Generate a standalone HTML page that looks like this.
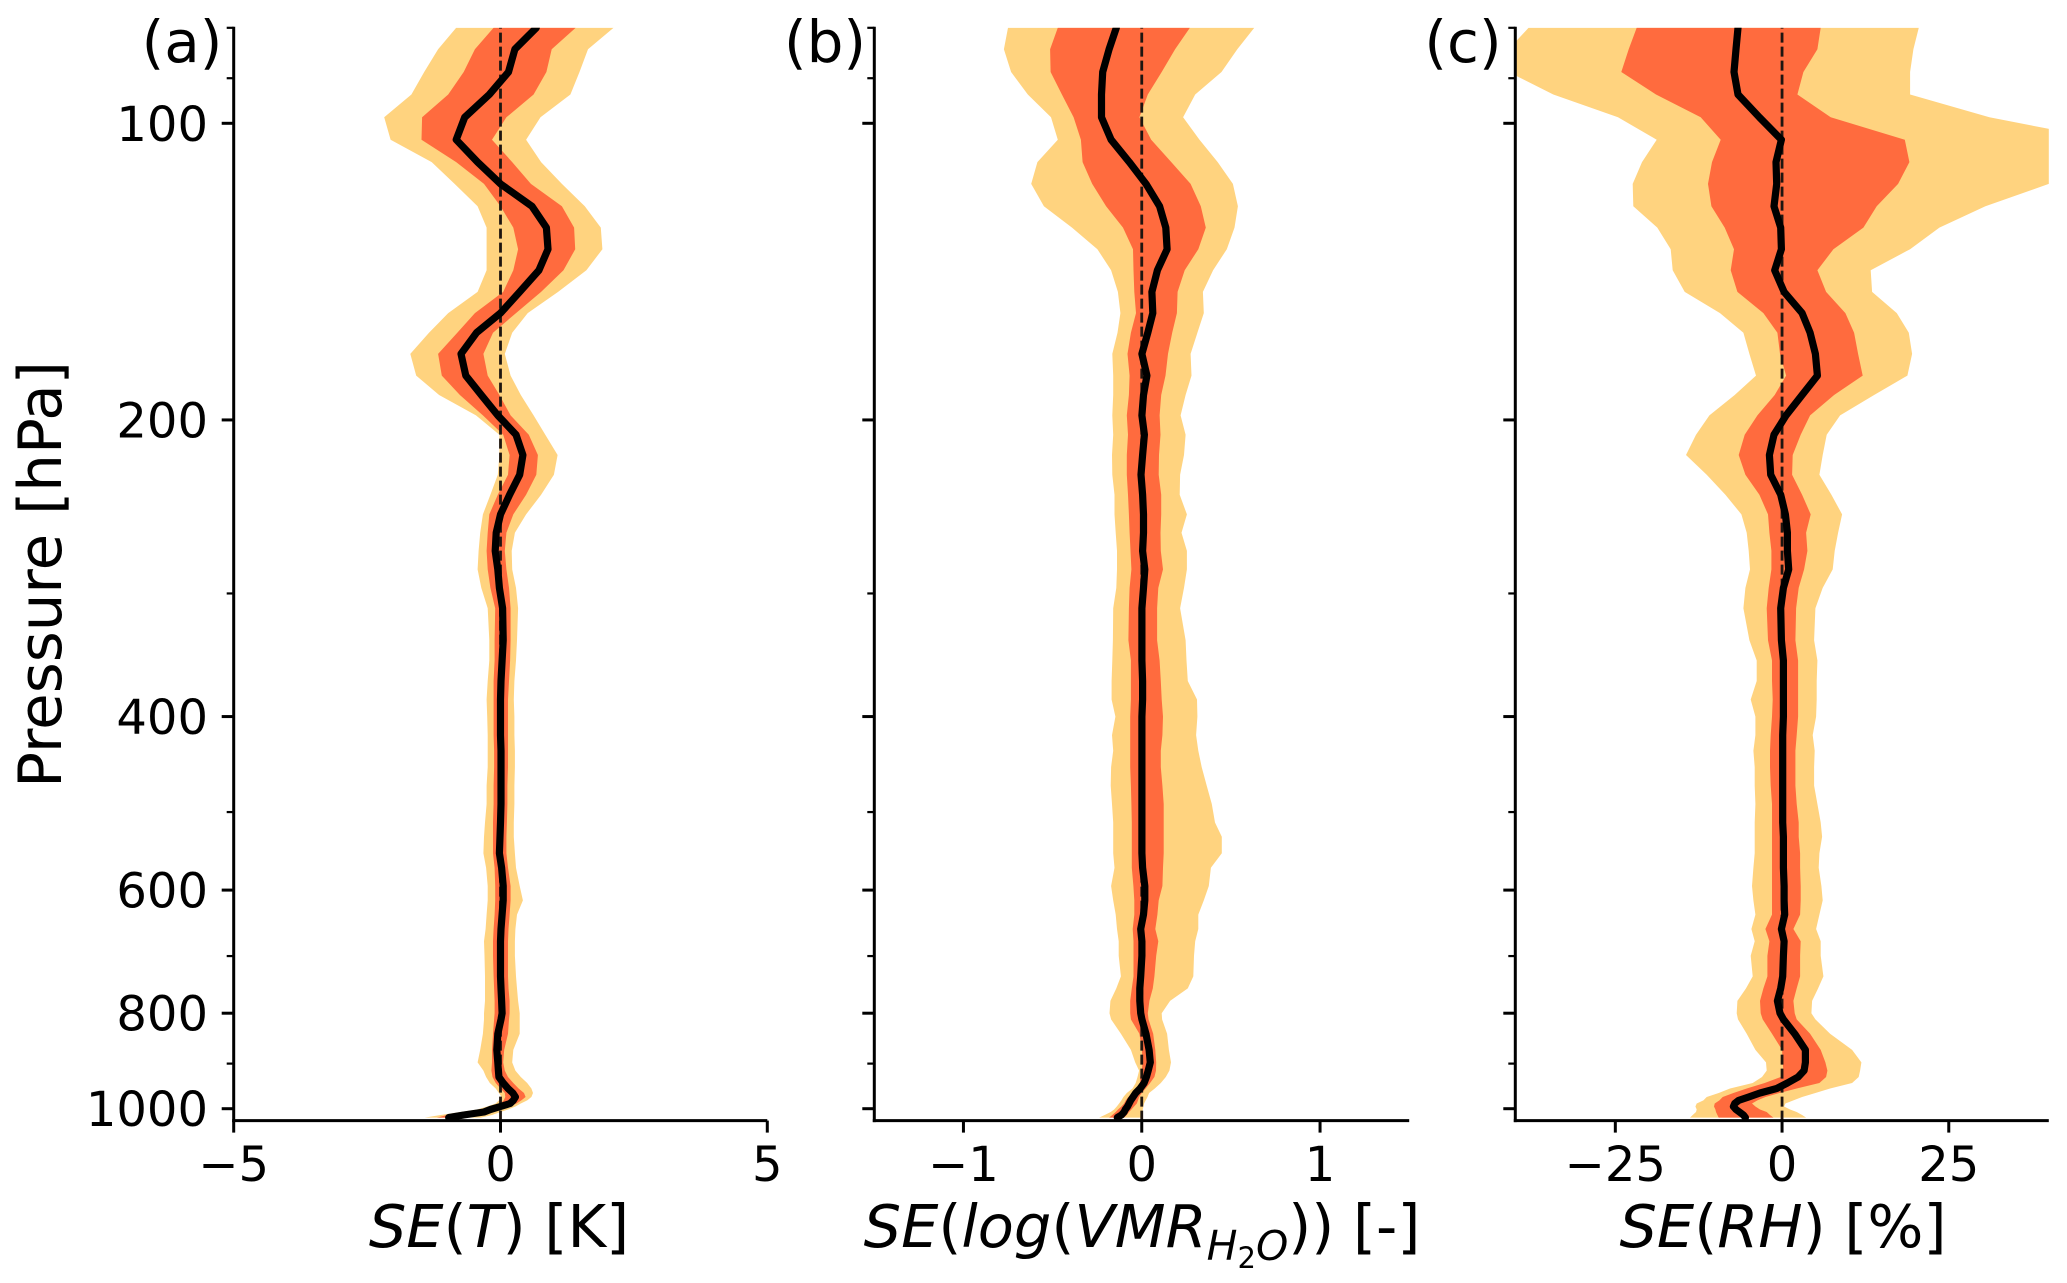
<!DOCTYPE html>
<html lang="en">
<head>
<meta charset="utf-8">
<title>Standard error profiles</title>
<style>
html,body{margin:0;padding:0;background:#fff;}
svg{display:block;font-family:"DejaVu Sans",sans-serif;}
</style>
</head>
<body>
<svg id="chart" xmlns="http://www.w3.org/2000/svg" width="2067" height="1283" viewBox="0 0 2067 1283">
<rect x="0" y="0" width="2067" height="1283" fill="#ffffff"/>
<text transform="translate(61,574.5) rotate(-90)" text-anchor="middle" font-size="59.5" fill="#000">Pressure [hPa]</text>
<text x="499" y="1247" text-anchor="middle" font-size="59" fill="#000"><tspan font-style="italic">SE</tspan>(<tspan font-style="italic">T</tspan>) [K]</text>
<text x="1142" y="1247" text-anchor="middle" font-size="59" fill="#000"><tspan font-style="italic">SE</tspan>(<tspan font-style="italic">log</tspan>(<tspan font-style="italic">VMR</tspan><tspan font-style="italic" font-size="41" dy="13">H</tspan><tspan font-size="29" dy="8">2</tspan><tspan font-style="italic" font-size="41" dy="-8">O</tspan><tspan dy="-13">)) [-]</tspan></text>
<text x="1783" y="1247" text-anchor="middle" font-size="59" fill="#000"><tspan font-style="italic">SE</tspan>(<tspan font-style="italic">RH</tspan>) [%]</text>
<text x="182" y="62" text-anchor="middle" font-size="58" fill="#000">(a)</text>
<text x="825" y="62" text-anchor="middle" font-size="58" fill="#000">(b)</text>
<text x="1463" y="62" text-anchor="middle" font-size="58" fill="#000">(c)</text>
</svg>
<script>
// Pressure levels (hPa)
const levels = [80,84.1,88.7,93.5,98.6,103.9,109.5,115.2,121.4,127.6,134.2,141,148.3,155.8,163.1,171.4,180.3,188.7,197.9,207,217.1,227.3,238.2,249.4,260.3,271.6,283.6,296.1,310.5,334.6,350.9,368.1,384.4,400,417.7,433.2,450.1,470,490.7,512.4,529.8,550.5,569.4,594.3,614.6,635.4,657.1,676.3,699.4,734,755,777.4,800,811.6,839.4,871.7,897.4,914.9,928.6,941.7,954,964,973,980.9,987.9,994.9,1001.8,1007.8,1014.8,1021];
const majorPressureTicks = [100,200,400,600,800,1000];
const minorPressureTicks = [80,90,300,500,700,900];

// Panel (a) SE(T) [K]
const tempOuterLow = [-.83,-1.17,-1.43,-1.67,-2.18,-2.06,-1.29,-.86,-.43,-.26,-.26,-.26,-.43,-.98,-1.34,-1.69,-1.58,-1.15,-.46,-.02,-.02,-.05,-.19,-.33,-.38,-.41,-.43,-.36,-.24,-.21,-.21,-.24,-.26,-.25,-.24,-.24,-.24,-.26,-.26,-.29,-.31,-.32,-.27,-.24,-.24,-.26,-.28,-.31,-.30,-.29,-.29,-.29,-.31,-.31,-.33,-.38,-.43,-.32,-.27,-.20,-.09,-.03,.02,-.03,-.09,-.25,-.44,-.75,-1.12,-1.42];
const tempInnerLow = [-.13,-.48,-.69,-.98,-1.47,-1.48,-.83,-.31,0,.24,.33,.24,.05,-.48,-.81,-1.17,-1.10,-.76,-.33,.05,.17,.14,-.05,-.21,-.24,-.26,-.24,-.19,-.10,-.11,-.11,-.13,-.13,-.13,-.13,-.12,-.12,-.13,-.13,-.14,-.14,-.14,-.11,-.10,-.10,-.11,-.13,-.14,-.14,-.13,-.12,-.11,-.11,-.12,-.14,-.16,-.16,-.17,-.15,-.09,0,.08,.09,.06,0,-.16,-.34,-.62,-1.0,-1.19];
const tempMean = [.67,.27,.15,-.21,-.67,-.83,-.43,0,.59,.86,.89,.72,.36,0,-.45,-.74,-.65,-.36,-.05,.29,.42,.36,.17,0,-.08,-.10,-.05,-.02,.04,.05,.03,.01,0,0,0,.01,.01,.01,.01,0,-.01,-.02,.02,.05,.05,.03,.01,0,0,0,.01,.02,.03,.01,-.05,-.07,-.05,-.04,-.03,.05,.14,.23,.28,.24,.18,0,-.19,-.31,-.69,-.97];
const tempInnerHigh = [1.41,.96,.86,.62,.11,-.16,.22,.57,1.15,1.38,1.40,1.18,.76,.29,-.14,-.32,-.24,-.02,.19,.53,.70,.67,.48,.24,.11,.08,.11,.16,.19,.19,.18,.16,.14,.14,.14,.14,.14,.13,.13,.12,.11,.11,.14,.19,.19,.17,.15,.14,.14,.14,.15,.17,.17,.16,.14,.07,.05,.08,.14,.24,.34,.44,.47,.39,.30,.16,-.03,-.16,-.44,-.62];
const tempOuterHigh = [2.12,1.64,1.48,1.31,.75,.48,.76,1.15,1.58,1.88,1.91,1.61,1.08,.51,.22,.08,.19,.38,.62,.84,1.07,1.00,.76,.48,.27,.21,.22,.29,.33,.31,.29,.26,.25,.26,.26,.27,.27,.26,.26,.25,.25,.27,.29,.36,.42,.31,.28,.27,.27,.29,.31,.33,.36,.36,.36,.24,.22,.28,.38,.50,.58,.61,.58,.50,.38,.28,.14,0,-.16,-.37];
const tempTicks = [-5,0,5];

// Panel (b) SE(log(VMR_H2O)) [-]
const vmrOuterLow = [-.750,-.773,-.733,-.639,-.509,-.471,-.585,-.620,-.549,-.391,-.249,-.172,-.134,-.120,-.136,-.165,-.160,-.160,-.165,-.160,-.167,-.165,-.153,-.153,-.146,-.139,-.139,-.143,-.160,-.162,-.165,-.169,-.169,-.148,-.167,-.160,-.172,-.174,-.167,-.160,-.160,-.160,-.153,-.172,-.160,-.146,-.139,-.129,-.129,-.117,-.143,-.176,-.181,-.172,-.117,-.061,-.037,-.015,-.024,-.034,-.052,-.084,-.103,-.114,-.127,-.140,-.155,-.174,-.208,-.239];
const vmrInnerLow = [-.471,-.514,-.511,-.448,-.382,-.341,-.332,-.278,-.200,-.105,-.049,-.046,-.042,-.032,-.061,-.080,-.068,-.072,-.084,-.077,-.084,-.084,-.077,-.072,-.068,-.063,-.058,-.068,-.072,-.075,-.061,-.061,-.061,-.065,-.065,-.065,-.065,-.061,-.058,-.056,-.056,-.056,-.056,-.047,-.042,-.042,-.051,-.046,-.046,-.046,-.056,-.065,-.065,-.061,-.013,.001,.005,0,-.009,-.009,-.024,-.052,-.075,-.090,-.099,-.114,-.133,-.146,-.165,-.183];
const vmrMean = [-.143,-.183,-.219,-.226,-.226,-.172,-.070,.024,.100,.135,.142,.088,.057,.062,.034,.001,.029,.010,.001,.015,.005,-.004,.005,.010,.010,.005,.017,.010,.001,.001,.001,.005,.005,.001,.001,.001,.001,.001,.001,.001,.001,.001,.005,.017,.017,.010,-.006,.001,.001,-.006,-.011,-.011,-.006,.001,.024,.041,.048,.036,.026,.013,-.009,-.034,-.049,-.062,-.071,-.080,-.092,-.099,-.114,-.137];
const vmrInnerHigh = [.270,.187,.112,.034,-.013,.053,.166,.274,.331,.359,.317,.241,.201,.197,.171,.147,.133,.109,.100,.105,.097,.095,.109,.109,.105,.107,.119,.093,.086,.086,.100,.107,.112,.119,.116,.107,.107,.116,.123,.123,.123,.123,.119,.116,.095,.088,.076,.093,.081,.071,.062,.043,.034,.038,.064,.076,.081,.080,.071,.047,.022,0,-.015,-.021,-.028,-.043,-.058,-.071,-.084,-.099];
const vmrOuterHigh = [.631,.536,.447,.300,.232,.324,.426,.511,.539,.520,.477,.400,.343,.348,.312,.274,.279,.246,.218,.246,.237,.215,.213,.253,.223,.253,.253,.237,.215,.246,.251,.258,.310,.312,.305,.317,.336,.364,.393,.411,.449,.449,.388,.376,.348,.317,.317,.300,.293,.289,.258,.159,.112,.114,.142,.152,.164,.155,.135,.107,.073,.041,.032,.022,.013,.009,.006,.004,.004,0];
const vmrTicks = [-1,0,1];

// Panel (c) SE(RH) [%]
const rhOuterLow = [-38,-41,-41,-34.3,-24.6,-18.8,-21,-22.4,-22.3,-18.7,-16.7,-16.4,-14.6,-9.3,-5.8,-4.9,-3.9,-7.1,-10.9,-12.9,-14.4,-11.3,-8.5,-6.1,-5.3,-5,-4.8,-5.5,-5.8,-4.9,-3.8,-3.8,-4.7,-4,-4,-4.3,-4.1,-4.1,-4,-4.1,-4.1,-4.1,-4.3,-4.5,-4.3,-4,-4.6,-4.1,-4.7,-4.4,-5.4,-6.7,-6.8,-6.6,-5.3,-4,-2.4,-2.3,-3,-4.4,-7.8,-9.5,-11.3,-11.8,-12.8,-13,-12.8,-12.9,-13.4,-13.8];
const rhInnerLow = [-21.8,-23,-24.1,-18.9,-12.2,-9.2,-10.5,-11.1,-10.6,-8.6,-7.2,-7.7,-6.7,-2.8,-.7,-.3,.6,-1.1,-3.7,-5.6,-6.5,-5.5,-3.4,-2.1,-1.9,-1.6,-1.6,-2,-2.3,-2.1,-1.5,-1.5,-1.4,-1.5,-1.7,-1.8,-1.8,-1.7,-1.5,-1.5,-1.5,-1.5,-1.5,-1.5,-1.5,-1.5,-2.5,-1.9,-2.2,-2.2,-2.8,-3.3,-3.2,-2.9,-1.5,0,.1,.2,-.2,-2.6,-5.3,-7.3,-8.9,-9.4,-10.1,-10.2,-10,-9.9,-9.7,-9.5];
const rhMean = [-6.6,-6.9,-7.2,-6.6,-3.4,-.1,-.9,-.8,-1.2,-.2,-.1,-1.1,.3,3,4.2,5,5.3,3,.6,-1.2,-1.9,-1.7,-.2,.5,.8,.8,1,.2,-.2,-.1,.2,.2,.2,.2,.1,.1,.1,.1,.1,.1,.2,.2,.2,.3,.3,.4,-.1,.3,.2,.1,-.2,-.7,-.3,.2,1.9,3.5,3.5,3.3,2.4,.8,-.8,-3.3,-5,-6.5,-7.1,-7.3,-6.9,-6.4,-5.8,-5.5];
const rhInnerHigh = [5.8,5.3,3.2,2.3,7.3,18.4,19.1,17.4,14.2,12.2,7.7,5.3,6.6,9.5,10.8,11.4,12.1,7.8,4.2,2.8,1.6,1.5,3,4.3,3.6,3.8,3.3,2.5,2.1,2,2.4,2.4,2.4,2.4,2.2,2,2,2,2.2,2.5,2.5,2.7,2.7,2.8,2.8,2.7,1.7,2.8,2.7,2.7,2.2,1.7,1.9,2.2,4.2,5.8,6.5,6.8,6.6,5.6,2.2,-.4,-2.5,-3.7,-4.5,-4,-3.3,-2.3,-1.8,-1.3];
const rhOuterHigh = [20.5,19.7,19.2,19.2,31.1,48.4,50.9,40,30.5,23.6,19.2,13.3,13.5,17.2,19,19.5,18.8,13.8,8.7,6.7,6.1,5.6,7.4,9,8.4,7.9,7.6,6.1,5,4.8,5.3,5.2,5.2,5.1,4.6,4.9,4.8,4.8,5.3,5.8,6,5.6,5.5,5.9,6.1,5.6,5.1,5.8,5.8,6.2,5.4,4.5,4.4,5,7.2,10.5,11.9,11.7,11.5,10.5,7.2,5,3,1.7,.5,.3,1.2,2.2,3,3.6];
const rhTicks = [-25,0,25];

const SVGNS = "http://www.w3.org/2000/svg";
const svg = document.getElementById("chart");
const plotTop = 27.8, plotBottom = 1120.6, decadePx = 985.4, refY = 123.3;
const COLOR_OUTER = "#ffd37f", COLOR_INNER = "#ff6b3e";

function yScale(p){ return refY + decadePx * Math.log10(p / 100); }

function make(tag, attrs, parent){
  const el = document.createElementNS(SVGNS, tag);
  for (const k in attrs) el.setAttribute(k, attrs[k]);
  parent.appendChild(el);
  return el;
}

function drawPanel(id, left, right, xMax, tickVals, outerLow, innerLow, mean, innerHigh, outerHigh, showYLabels){
  const xScale = v => left + (v + xMax) / (2 * xMax) * (right - left);

  const group = make("g", {}, svg);
  
  

  const clip = make("clipPath", {id: "clip-" + id}, group);
  make("rect", {x: left, y: plotTop, width: right - left, height: plotBottom - plotTop}, clip);

  const marks = make("g", {"clip-path": "url(#clip-" + id + ")"}, group);

  const band = (lo, hi) => {
    const a = levels.map((p, i) => xScale(lo[i]).toFixed(1) + "," + yScale(p).toFixed(1));
    const b = levels.map((p, i) => xScale(hi[i]).toFixed(1) + "," + yScale(p).toFixed(1)).reverse();
    return a.concat(b).join(" ");
  };

  const outer = make("polygon", {points: band(outerLow, outerHigh), fill: COLOR_OUTER}, marks);
  
  

  const inner = make("polygon", {points: band(innerLow, innerHigh), fill: COLOR_INNER}, marks);
  
  

  const zero = make("line", {x1: xScale(0), x2: xScale(0), y1: plotBottom, y2: plotTop, stroke: "#1e1510", "stroke-width": 2.8, "stroke-dasharray": "10 4"}, marks);
  
  

  const meanPts = levels.map((p, i) => xScale(mean[i]).toFixed(1) + "," + yScale(p).toFixed(1)).join(" ");
  const meanLine = make("polyline", {points: meanPts, fill: "none", stroke: "#000", "stroke-width": 7.2, "stroke-linejoin": "round", "stroke-linecap": "round"}, marks);
  
  

  const yAxis = make("line", {x1: left, x2: left, y1: plotTop - 1, y2: plotBottom + 1.5, stroke: "#000", "stroke-width": 3}, group);
  
  

  const xAxis = make("line", {x1: left - 1.5, x2: right, y1: plotBottom, y2: plotBottom, stroke: "#000", "stroke-width": 3}, group);
  
  

  majorPressureTicks.forEach(p => {
    const tick = make("line", {x1: left - 12, x2: left, y1: yScale(p), y2: yScale(p), stroke: "#000", "stroke-width": 3}, group);
    
    
    if (showYLabels) {
      const label = make("text", {x: 208, y: yScale(p) + 17.5, "text-anchor": "end", "font-size": 48, fill: "#000"}, group);
      
      
      label.textContent = String(p);
    }
  });

  minorPressureTicks.forEach(p => {
    const tick = make("line", {x1: left - 7, x2: left, y1: yScale(p), y2: yScale(p), stroke: "#000", "stroke-width": 2.2}, group);
    
    
  });

  tickVals.forEach(v => {
    const tick = make("line", {x1: xScale(v), x2: xScale(v), y1: plotBottom, y2: plotBottom + 12, stroke: "#000", "stroke-width": 3}, group);
    
    
    const label = make("text", {x: xScale(v), y: 1181, "text-anchor": "middle", "font-size": 48, fill: "#000"}, group);
    
    
    label.textContent = (v < 0 ? "\u2212" : "") + Math.abs(v);
  });
}

drawPanel("a", 233.7, 767.3, 5, tempTicks, tempOuterLow, tempInnerLow, tempMean, tempInnerHigh, tempOuterHigh, true);
drawPanel("b", 874.3, 1409.2, 1.5, vmrTicks, vmrOuterLow, vmrInnerLow, vmrMean, vmrInnerHigh, vmrOuterHigh, false);
drawPanel("c", 1515.3, 2048.8, 40, rhTicks, rhOuterLow, rhInnerLow, rhMean, rhInnerHigh, rhOuterHigh, false);
</script>
</body>
</html>
